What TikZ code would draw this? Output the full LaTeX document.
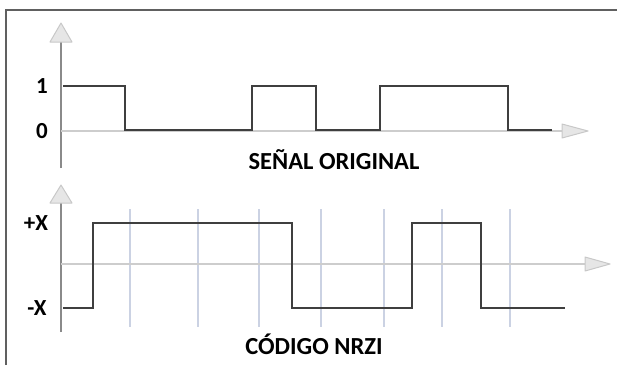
\documentclass[tikz,border=0pt]{standalone}
\usepackage{fontspec}
\setmainfont{Carlito}
\usetikzlibrary{positioning}

\definecolor{wavegray}{HTML}{3F3F3F}
\definecolor{axisgray}{HTML}{8A8A8A}
\definecolor{zerogray}{HTML}{CDCDCD}
\definecolor{gridblue}{HTML}{CBD2E3}
\definecolor{tipfill}{HTML}{E6E6E6}
\definecolor{tipline}{HTML}{C8C8C8}
\definecolor{framegray}{HTML}{606060}

\tikzset{
  wave/.style={line width=2.8pt,draw=wavegray},
  vaxis/.style={line width=2.4pt,draw=axisgray},
  haxis/.style={line width=1.8pt,draw=zerogray},
  gridline/.style={line width=2pt,draw=gridblue},
  tip/.style={line width=1pt,draw=tipline,fill=tipfill,line join=round},
  lbl/.style={font=\fontsize{23}{26}\selectfont\bfseries,inner sep=0pt},
  title/.style={font=\fontsize{24.5}{28}\selectfont\bfseries,inner sep=0pt}
}

\begin{document}
\begin{tikzpicture}[x=1pt,y=-1pt]
\useasboundingbox (0,0) rectangle (617,365);

% frame
\draw[line width=1.8pt,framegray] (6,365) -- (6,10) -- (617,10);

%%% upper plot: original signal
\coordinate (o1) at (61,131);
\coordinate (y1) at (61,42);
\coordinate (x1) at (562,131);

\draw[vaxis] (61,168) -- (y1);
\draw[tip] (61,23) -- (50,42) -- (72,42) -- cycle;
\draw[haxis] (o1) -- (x1);
\draw[tip] (588,131) -- (562,124) -- (562,138) -- cycle;

\draw[wave] (63,86) -| (125,130) -| (252,86) -| (316,130) -| (380,86) -| (508,130) -- (552,130);

\node[lbl] (one) at (42,86) {1};
\node[lbl] (zero) at (42,131) {0};
\node[title] (orig) at (334,160) {SEÑAL ORIGINAL};

%%% lower plot: NRZI code
\coordinate (o2) at (61,264);
\coordinate (y2) at (61,203);
\coordinate (x2) at (585,264);

% clock marks
\foreach \gx in {130,198,259,321,384,442,510}
  \draw[gridline] (\gx,209) -- (\gx,327);

\draw[vaxis] (61,332) -- (y2);
\draw[tip] (61,185) -- (50,203) -- (72,203) -- cycle;
\draw[haxis] (o2) -- (x2);
\draw[tip] (610,264) -- (585,257) -- (585,271) -- cycle;

\draw[wave] (63,308) -| (93,223) -| (292,308) -| (412,223) -| (481,308) -- (565,308);

\node[lbl] (plus) at (36,223) {+X};
\node[lbl] (minus) at (37,308) {-X};
\node[title] (nrzi) at (314,344) {CÓDIGO NRZI};
\end{tikzpicture}
\end{document}
